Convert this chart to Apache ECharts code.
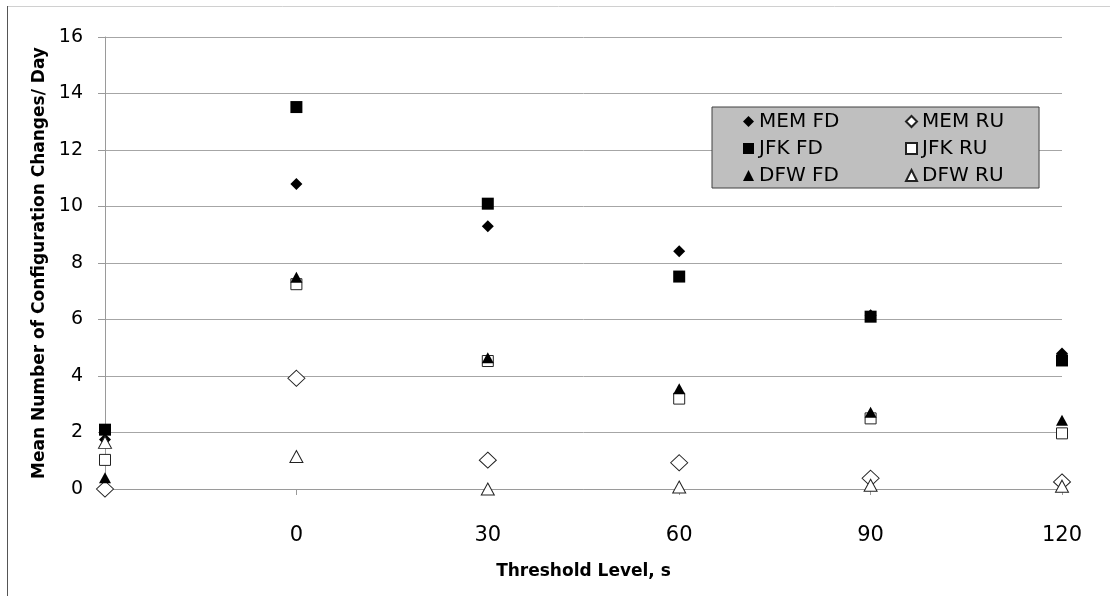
<!DOCTYPE html>
<html>
<head>
<meta charset="utf-8">
<script src="https://cdn.jsdelivr.net/npm/echarts@6/dist/echarts.min.js"></script>
<style>
html, body { margin: 0; padding: 0; background: #fff; }
#chart { width: 1110px; height: 596px; }
</style>
</head>
<body>
<div id="chart"></div>
<script>
// threshold levels (first one has no label)
var thresholds = ['', '0', '30', '60', '90', '120'];
var yTicks = [0, 2, 4, 6, 8, 10, 12, 14, 16];

var memFD = [1.75, 10.8, 9.3, 8.42, 6.15, 4.8];
var memRU = [0.0, 3.92, 1.02, 0.93, 0.38, 0.25];
var jfkFD = [2.1, 13.52, 10.1, 7.52, 6.1, 4.55];
var jfkRU = [1.03, 7.25, 4.53, 3.2, 2.5, 1.97];
var dfwFD = [0.4, 7.5, 4.65, 3.55, 2.72, 2.43];
var dfwRU = [1.65, 1.15, 0.0, 0.07, 0.13, 0.1];

var chart = echarts.init(document.getElementById('chart'));

var filled = { color: '#000', borderColor: '#000', borderWidth: 0, opacity: 1 };
var hollow = { color: '#fff', borderColor: '#222', borderWidth: 1, opacity: 1 };

function mkSeries(name, data, symbol, size, style) {
    return {
        name: name,
        type: 'scatter',
        data: data,
        symbol: symbol,
        symbolSize: size,
        itemStyle: style,
        emphasis: { disabled: true }
    };
}

var option = {
    animation: false,
    textStyle: { fontFamily: 'DejaVu Sans' },
    graphic: [
        { type: 'line', shape: { x1: 7, y1: 6.5, x2: 1110, y2: 6.5 }, style: { stroke: '#d0d0d0', lineWidth: 1 } },
        { type: 'line', shape: { x1: 7.5, y1: 6, x2: 7.5, y2: 596 }, style: { stroke: '#555', lineWidth: 1 } }
    ],
    grid: { left: 105, right: 48, top: 37, bottom: 107 },
    legend: {
        left: 712,
        top: 107,
        width: 320,
        orient: 'horizontal',
        backgroundColor: '#bfbfbf',
        borderColor: '#404040',
        borderWidth: 1,
        padding: [4, 35, 2, 31],
        itemWidth: 11,
        itemHeight: 11,
        itemGap: 6,
        textStyle: { fontFamily: 'DejaVu Sans', fontSize: 20, color: '#000', lineHeight: 21 },
        data: [
            { name: 'MEM FD', textStyle: { width: 140 } }, 'MEM RU',
            { name: 'JFK FD', textStyle: { width: 140 } }, 'JFK RU',
            { name: 'DFW FD', textStyle: { width: 140 } }, 'DFW RU'
        ]
    },
    xAxis: {
        type: 'category',
        data: thresholds,
        boundaryGap: false,
        name: 'Threshold Level, s',
        nameLocation: 'middle',
        nameGap: 74,
        nameTextStyle: { fontWeight: 'bold', fontSize: 17, color: '#000' },
        axisLine: { lineStyle: { color: '#9a9a9a' } },
        axisTick: { length: 6, lineStyle: { color: '#9a9a9a' } },
        axisLabel: { margin: 36, fontSize: 21, color: '#000' },
        splitLine: { show: false }
    },
    yAxis: {
        type: 'value',
        min: yTicks[0],
        max: yTicks[yTicks.length - 1],
        interval: 2,
        name: 'Mean Number of Configuration Changes/ Day',
        nameLocation: 'middle',
        nameGap: 57,
        nameTextStyle: { fontWeight: 'bold', fontSize: 17, color: '#000' },
        axisLine: { show: true, lineStyle: { color: '#9a9a9a' } },
        axisTick: { show: true, length: 7, lineStyle: { color: '#9a9a9a' } },
        axisLabel: { margin: 22, fontSize: 19, color: '#000' },
        splitLine: { lineStyle: { color: '#a6a6a6' } }
    },
    series: [
        mkSeries('MEM FD', memFD, 'diamond', [12, 12], filled),
        mkSeries('MEM RU', memRU, 'diamond', [17, 16], hollow),
        mkSeries('JFK FD', jfkFD, 'rect', [12, 12], filled),
        mkSeries('JFK RU', jfkRU, 'rect', [11, 11], hollow),
        mkSeries('DFW FD', dfwFD, 'triangle', [12, 11], filled),
        mkSeries('DFW RU', dfwRU, 'triangle', [13, 12], hollow)
    ]
};

chart.setOption(option);
</script>
</body>
</html>
